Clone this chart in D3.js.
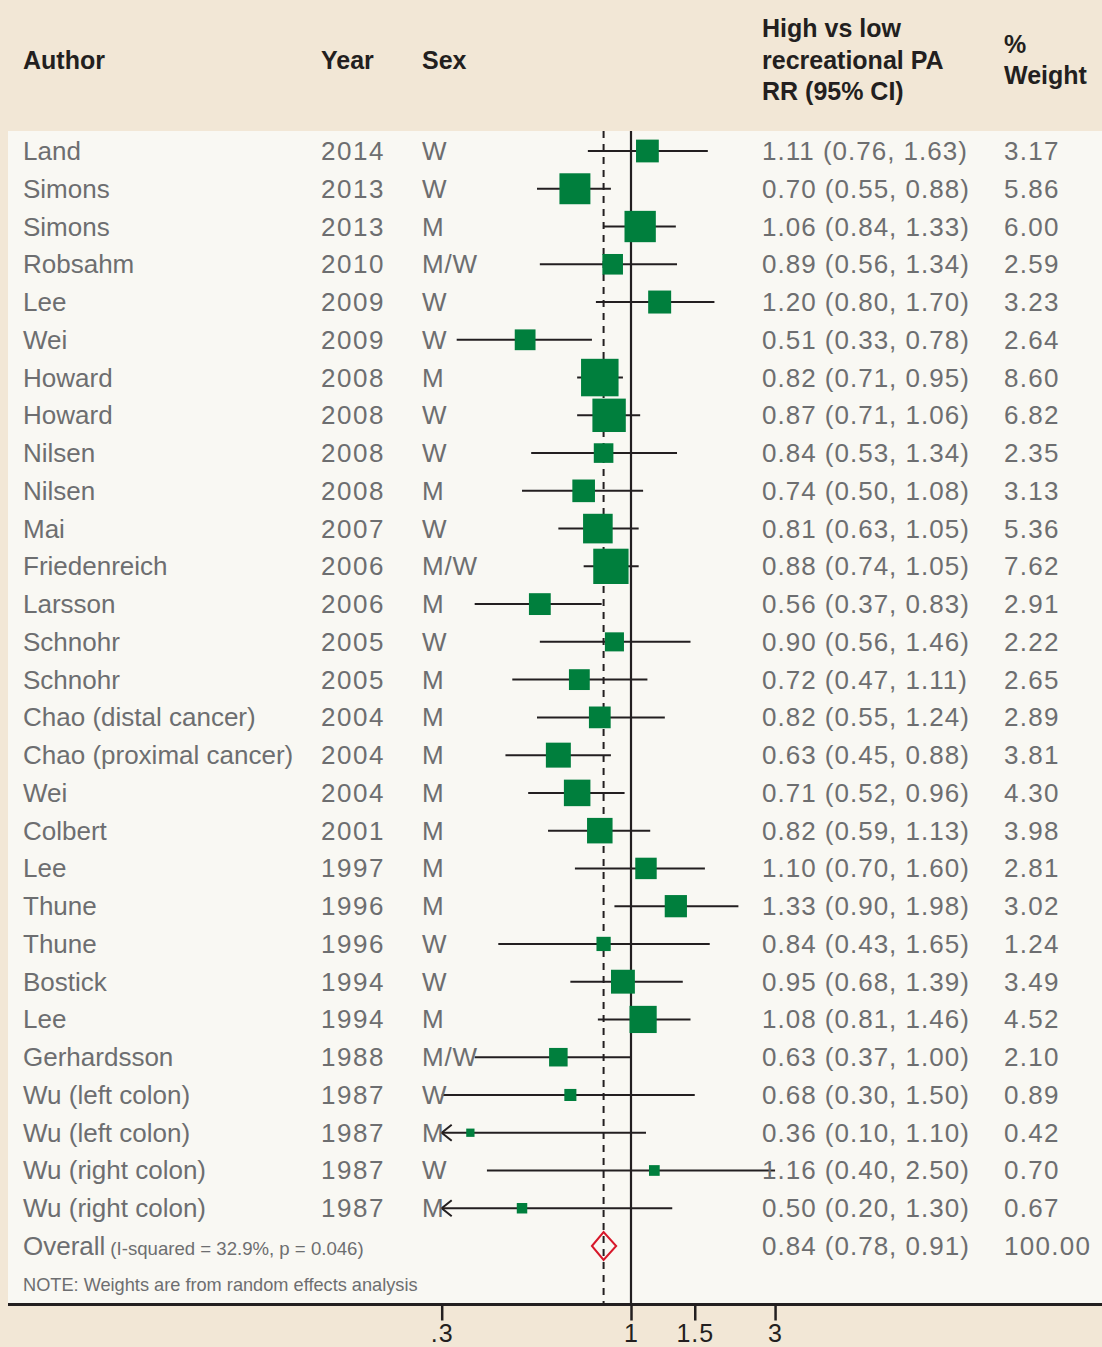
<!DOCTYPE html>
<html><head><meta charset="utf-8">
<script src="https://cdn.jsdelivr.net/npm/d3@7"></script>
<style>body{margin:0;background:#f2e7d6}svg{display:block}</style>
</head><body><svg id="c" width="1102" height="1347"></svg>
<script>
const authors = ["Land","Simons","Simons","Robsahm","Lee","Wei","Howard","Howard","Nilsen","Nilsen","Mai","Friedenreich","Larsson","Schnohr","Schnohr","Chao (distal cancer)","Chao (proximal cancer)","Wei","Colbert","Lee","Thune","Thune","Bostick","Lee","Gerhardsson","Wu (left colon)","Wu (left colon)","Wu (right colon)","Wu (right colon)"];
const years = [2014,2013,2013,2010,2009,2009,2008,2008,2008,2008,2007,2006,2006,2005,2005,2004,2004,2004,2001,1997,1996,1996,1994,1994,1988,1987,1987,1987,1987];
const sexes = ["W","W","M","M/W","W","W","M","W","W","M","W","M/W","M","W","M","M","M","M","M","M","M","W","W","M","M/W","W","M","W","M"];
const rr = [1.11,0.70,1.06,0.89,1.20,0.51,0.82,0.87,0.84,0.74,0.81,0.88,0.56,0.90,0.72,0.82,0.63,0.71,0.82,1.10,1.33,0.84,0.95,1.08,0.63,0.68,0.36,1.16,0.50];
const ciLow = [0.76,0.55,0.84,0.56,0.80,0.33,0.71,0.71,0.53,0.50,0.63,0.74,0.37,0.56,0.47,0.55,0.45,0.52,0.59,0.70,0.90,0.43,0.68,0.81,0.37,0.30,0.10,0.40,0.20];
const ciHigh = [1.63,0.88,1.33,1.34,1.70,0.78,0.95,1.06,1.34,1.08,1.05,1.05,0.83,1.46,1.11,1.24,0.88,0.96,1.13,1.60,1.98,1.65,1.39,1.46,1.00,1.50,1.10,2.50,1.30];
const weights = [3.17,5.86,6.00,2.59,3.23,2.64,8.60,6.82,2.35,3.13,5.36,7.62,2.91,2.22,2.65,2.89,3.81,4.30,3.98,2.81,3.02,1.24,3.49,4.52,2.10,0.89,0.42,0.70,0.67];
const overall = {rr:0.84, lo:0.78, hi:0.91, weight:100.00, label:"Overall", stat:"(I-squared = 32.9%, p = 0.046)"};
const tickValues = [0.3, 1, 1.5, 2.5];
const tickLabels = [".3","1","1.5","3"];
const note = "NOTE: Weights are from random effects analysis";

const W = 1102, H = 1347;
const headTop = 131, bodyBottom = 1303, bodyLeft = 8;
const FONT = "'Liberation Sans', Arial, sans-serif";
const GREY = "#6d6e70", DARK = "#231f20", GREEN = "#007f3d", RED = "#d7182a";
const svg = d3.select("#c");

const x = d3.scaleLog().domain([0.3, 1]).range([441.7, 631]);
const y = d3.scaleLinear().domain([0, authors.length]).range([151, 1246]);
const side = d3.scaleSqrt().domain([0, 8.6]).range([0, 37.5]);
const f2 = d3.format(".2f");
const minV = x.domain()[0];

// backgrounds
svg.append("rect").attr("width", W).attr("height", H).attr("fill", "#f2e7d6");
svg.append("rect").attr("x", bodyLeft).attr("y", headTop).attr("width", W - bodyLeft).attr("height", bodyBottom - headTop).attr("fill", "#f9f8f3");

// header
const hd = svg.append("g").attr("font-family", FONT).attr("font-weight", "bold").attr("font-size", 25).attr("fill", DARK);
hd.append("text").attr("x", 23).attr("y", 69).text("Author");
hd.append("text").attr("x", 321).attr("y", 69).text("Year");
hd.append("text").attr("x", 422).attr("y", 69).text("Sex");
["High vs low","recreational PA","RR (95% CI)"].forEach((t,i)=>hd.append("text").attr("x",762).attr("y",37+i*31.5).text(t));
hd.append("text").attr("x", 1004).attr("y", 53).text("%");
hd.append("text").attr("x", 1004).attr("y", 84).text("Weight");

// reference lines
svg.append("line").attr("x1", x(1)).attr("x2", x(1)).attr("y1", headTop).attr("y2", bodyBottom).attr("stroke", DARK).attr("stroke-width", 2.2);
svg.append("line").attr("x1", x(overall.rr)).attr("x2", x(overall.rr)).attr("y1", headTop).attr("y2", bodyBottom).attr("stroke", DARK).attr("stroke-width", 2).attr("stroke-dasharray", "7,6");

const rows = authors.map((a,i)=>({a, year:years[i], sex:sexes[i], rr:rr[i], lo:ciLow[i], hi:ciHigh[i], w:weights[i], i}));

// CI lines
const g = svg.append("g");
g.selectAll("line.ci").data(rows).join("line").attr("class","ci")
  .attr("x1", d=>x(Math.max(d.lo, minV))).attr("x2", d=>x(d.hi))
  .attr("y1", d=>y(d.i)).attr("y2", d=>y(d.i)).attr("stroke", DARK).attr("stroke-width", 2);
g.selectAll("path.arr").data(rows.filter(d=>d.lo < minV)).join("path").attr("class","arr")
  .attr("d", d=>{const tx=x(minV), ty=y(d.i); return `M${tx+10},${ty-8}L${tx},${ty}L${tx+10},${ty+8}`;})
  .attr("fill","none").attr("stroke", DARK).attr("stroke-width", 2);
g.selectAll("rect.sq").data(rows).join("rect").attr("class","sq")
  .attr("x", d=>x(d.rr)-side(d.w)/2).attr("y", d=>y(d.i)-side(d.w)/2)
  .attr("width", d=>side(d.w)).attr("height", d=>side(d.w)).attr("fill", GREEN);

// overall diamond
const oy = y(authors.length);
svg.append("path").attr("d", `M${x(overall.lo)},${oy}L${x(overall.rr)},${oy-14}L${x(overall.hi)},${oy}L${x(overall.rr)},${oy+14}Z`)
  .attr("fill","none").attr("stroke", RED).attr("stroke-width", 2);

// row text
const tg = svg.append("g").attr("font-family", FONT).attr("font-size", 26).attr("fill", GREY);
const tr = tg.selectAll("g").data(rows).join("g").attr("transform", d=>`translate(0,${y(d.i)+9})`);
tr.append("text").attr("x", 23).text(d=>d.a);
tr.append("text").attr("x", 321).attr("letter-spacing", 1.5).text(d=>d.year);
tr.append("text").attr("x", 422).attr("letter-spacing", 0.8).text(d=>d.sex);
tr.append("text").attr("x", 762).attr("letter-spacing", 1).text(d=>`${f2(d.rr)} (${f2(d.lo)}, ${f2(d.hi)})`);
tr.append("text").attr("x", 1004).attr("letter-spacing", 1.3).text(d=>f2(d.w));

const ot = tg.append("text").attr("x", 23).attr("y", oy+9);
ot.append("tspan").text(overall.label);
ot.append("tspan").attr("font-size", 18.6).attr("dx", 5).text(overall.stat);
tg.append("text").attr("x", 762).attr("y", oy+9).attr("letter-spacing", 1).text(`${f2(overall.rr)} (${f2(overall.lo)}, ${f2(overall.hi)})`);
tg.append("text").attr("x", 1004).attr("y", oy+9).attr("letter-spacing", 1.3).text(f2(overall.weight));
tg.append("text").attr("x", 23).attr("y", 1291).attr("font-size", 18.2).text(note);

// axis
svg.append("line").attr("x1", bodyLeft).attr("x2", W).attr("y1", bodyBottom+1.5).attr("y2", bodyBottom+1.5).attr("stroke", DARK).attr("stroke-width", 3);
const ax = svg.append("g").attr("transform", `translate(0,${bodyBottom+1.5})`)
  .call(d3.axisBottom(x).tickValues(tickValues).tickFormat((d,i)=>tickLabels[i]).tickSize(16).tickPadding(4));
ax.select(".domain").remove();
ax.selectAll(".tick line").attr("stroke", DARK).attr("stroke-width", 2.5);
ax.selectAll(".tick text").attr("font-family", FONT).attr("font-size", 25).attr("fill", DARK).attr("letter-spacing", 1);
</script></body></html>
